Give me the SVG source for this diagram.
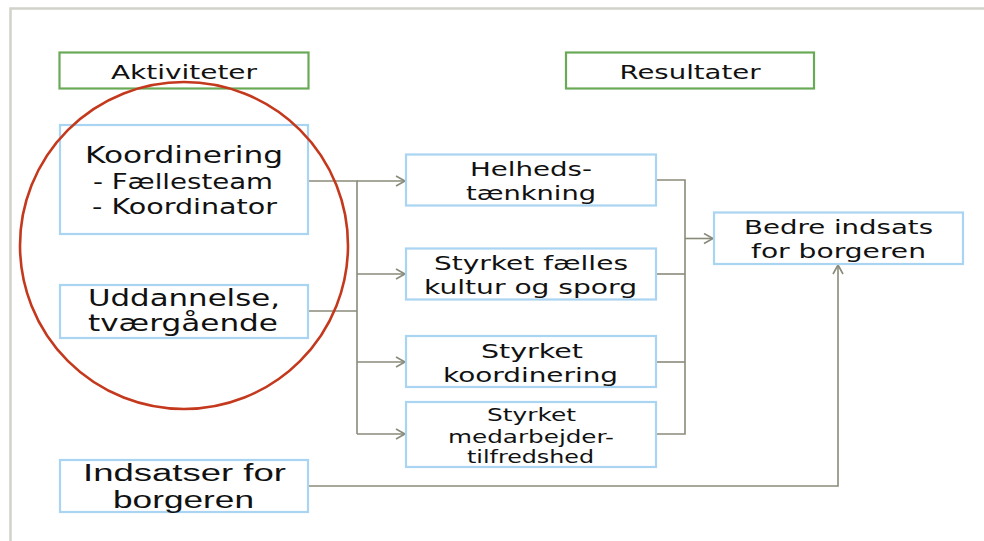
<svg xmlns="http://www.w3.org/2000/svg" width="984" height="541" viewBox="0 0 984 541">
<style>
.bg{fill:#ffffff}
.frame{fill:none;stroke:#d2d2ca;stroke-width:2.5}
.hdr{fill:#ffffff;stroke:#69aa57;stroke-width:2.2}
.box{fill:#ffffff;stroke:#a9d4f2;stroke-width:2.2}
.t{font-family:"DejaVu Sans",Verdana,sans-serif;fill:#111111;text-anchor:middle}
.n{font-family:"Liberation Sans",Arial,sans-serif;fill:#111111;text-anchor:middle}
.c{fill:none;stroke:#8a8a7a;stroke-width:1.6}
.ring{fill:none;stroke:#c4391d;stroke-width:2.6}
</style>
<defs>
<marker id="arr" markerWidth="12" markerHeight="12" refX="10" refY="6" orient="auto" markerUnits="userSpaceOnUse">
<path d="M1,1 L10,6 L1,11" fill="none" stroke="#8a8a7a" stroke-width="1.6"/>
</marker>
</defs>
<rect class="bg" x="0" y="0" width="984" height="541"/>
<path class="frame" d="M10.5,541 L10.5,8.5 L984,8.5"/>

<g id="connectors">
<path class="c" d="M308,181 L357,181 L357,434"/>
<path class="c" d="M308,311 L357,311"/>
<path class="c" d="M357,181 L405,181" marker-end="url(#arr)"/>
<path class="c" d="M357,274 L405,274" marker-end="url(#arr)"/>
<path class="c" d="M357,362 L405,362" marker-end="url(#arr)"/>
<path class="c" d="M357,434 L405,434" marker-end="url(#arr)"/>
<path class="c" d="M656,180 L685,180 L685,434 L656,434"/>
<path class="c" d="M656,274 L685,274"/>
<path class="c" d="M656,362 L685,362"/>
<path class="c" d="M685,238.5 L713,238.5" marker-end="url(#arr)"/>
<path class="c" d="M308,486 L838,486 L838,265" marker-end="url(#arr)"/>
</g>

<g id="aktiviteter">
<rect class="hdr" x="59.5" y="52.5" width="249" height="36"/>
<text class="t" x="184" y="79" font-size="20" textLength="146" lengthAdjust="spacingAndGlyphs">Aktiviteter</text>
</g>
<g id="resultater">
<rect class="hdr" x="566" y="52.5" width="248" height="36"/>
<text class="t" x="690" y="79" font-size="20" textLength="141" lengthAdjust="spacingAndGlyphs">Resultater</text>
</g>

<g id="koordinering">
<rect class="box" x="60" y="125" width="248" height="109"/>
<text class="t" x="184" y="163" font-size="23" textLength="198" lengthAdjust="spacingAndGlyphs">Koordinering</text>
<text class="t" x="183" y="189" font-size="21" textLength="180" lengthAdjust="spacingAndGlyphs">- Fællesteam</text>
<text class="t" x="184.5" y="214" font-size="21" textLength="185" lengthAdjust="spacingAndGlyphs">- Koordinator</text>
</g>

<g id="uddannelse">
<rect class="box" x="60" y="285" width="248" height="53"/>
<text class="t" x="184" y="306" font-size="23" textLength="192" lengthAdjust="spacingAndGlyphs">Uddannelse,</text>
<text class="t" x="183" y="331" font-size="23" textLength="190" lengthAdjust="spacingAndGlyphs">tværgående</text>
</g>

<g id="indsatser">
<rect class="box" x="60" y="460" width="248" height="52"/>
<text class="n" x="184.5" y="481" font-size="23" textLength="203" lengthAdjust="spacingAndGlyphs">Indsatser for</text>
<text class="n" x="183.5" y="508" font-size="23" textLength="141" lengthAdjust="spacingAndGlyphs">borgeren</text>
</g>

<g id="helheds">
<rect class="box" x="406" y="154.5" width="250" height="51"/>
<text class="t" x="531" y="176" font-size="20" textLength="122" lengthAdjust="spacingAndGlyphs">Helheds-</text>
<text class="t" x="531" y="200" font-size="20" textLength="130" lengthAdjust="spacingAndGlyphs">tænkning</text>
</g>

<g id="kultur">
<rect class="box" x="406" y="248.5" width="250" height="51"/>
<text class="t" x="531" y="270" font-size="20" textLength="194" lengthAdjust="spacingAndGlyphs">Styrket fælles</text>
<text class="t" x="530.5" y="294" font-size="20" textLength="213" lengthAdjust="spacingAndGlyphs">kultur og sporg</text>
</g>

<g id="styrket-koordinering">
<rect class="box" x="406" y="336" width="250" height="51"/>
<text class="t" x="532" y="358" font-size="20" textLength="102" lengthAdjust="spacingAndGlyphs">Styrket</text>
<text class="t" x="530.5" y="382" font-size="20" textLength="175" lengthAdjust="spacingAndGlyphs">koordinering</text>
</g>

<g id="medarbejder">
<rect class="box" x="406" y="402" width="250" height="65"/>
<text class="t" x="531.5" y="421" font-size="17" textLength="89" lengthAdjust="spacingAndGlyphs">Styrket</text>
<text class="t" x="531" y="443" font-size="17" textLength="166" lengthAdjust="spacingAndGlyphs">medarbejder-</text>
<text class="t" x="530.5" y="463" font-size="17" textLength="127" lengthAdjust="spacingAndGlyphs">tilfredshed</text>
</g>

<g id="bedre">
<rect class="box" x="714" y="212.5" width="249" height="51.5"/>
<text class="t" x="838.5" y="234" font-size="20" textLength="189" lengthAdjust="spacingAndGlyphs">Bedre indsats</text>
<text class="t" x="838.5" y="258" font-size="20" textLength="175" lengthAdjust="spacingAndGlyphs">for borgeren</text>
</g>

<ellipse class="ring" cx="184" cy="245.5" rx="164" ry="163.5"/>
</svg>
